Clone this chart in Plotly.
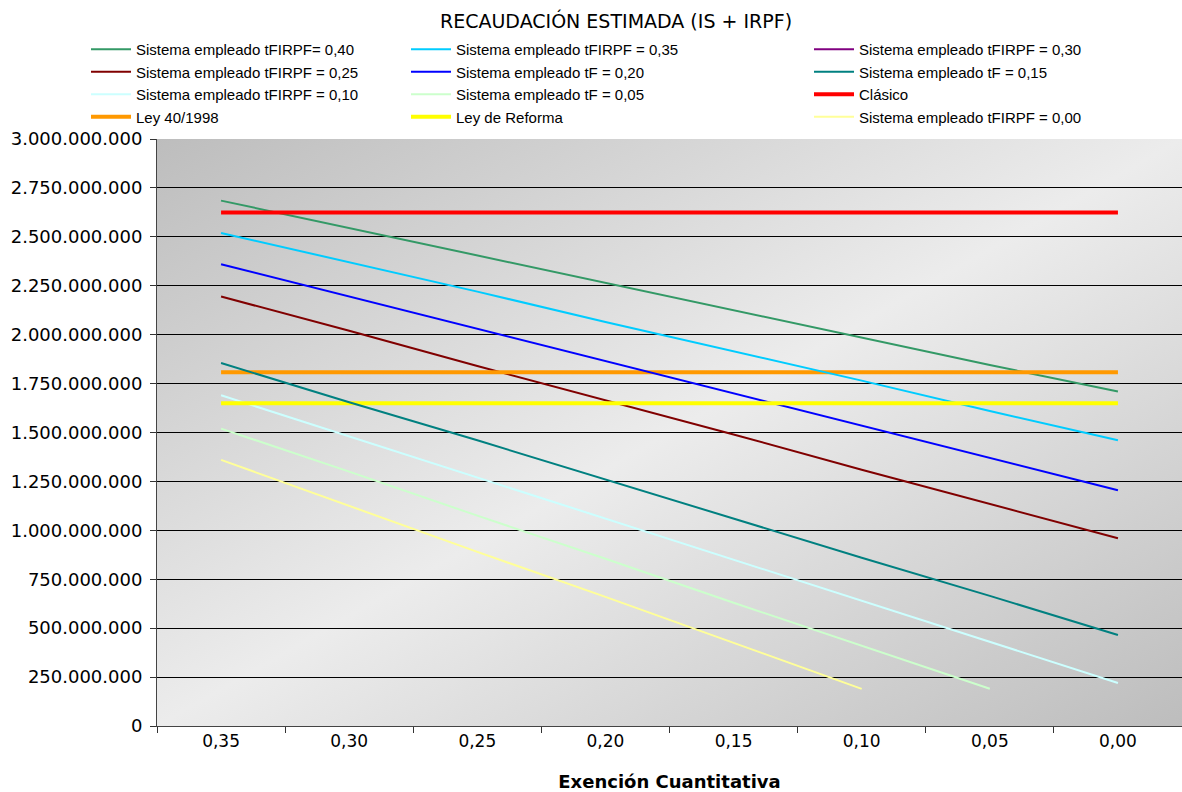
import base64
import plotly.graph_objects as go

# Category axis: exención cuantitativa
categorias = ["0,35", "0,30", "0,25", "0,20", "0,15", "0,10", "0,05", "0,00"]

# Recaudación estimada (IS + IRPF), en euros
s_040 = [2685e6, 2545e6, 2405e6, 2265e6, 2125e6, 1985e6, 1845e6, 1710e6]
s_035 = [2520e6, 2370e6, 2220e6, 2065e6, 1915e6, 1765e6, 1610e6, 1460e6]
s_030 = [None, None, None, None, None, None, None, None]
s_025 = [2195e6, 2020e6, 1840e6, 1665e6, 1490e6, 1310e6, 1135e6, 960e6]
s_020 = [2360e6, 2195e6, 2030e6, 1865e6, 1700e6, 1535e6, 1370e6, 1205e6]
s_015 = [1855e6, 1655e6, 1460e6, 1260e6, 1060e6, 860e6, 665e6, 465e6]
s_010 = [1690e6, 1480e6, 1270e6, 1060e6, 850e6, 640e6, 430e6, 220e6]
s_005 = [1520e6, 1300e6, 1075e6, 855e6, 630e6, 410e6, 190e6, None]
s_000 = [1360e6, 1125e6, 890e6, 660e6, 425e6, 190e6, None, None]
clasico = [2625e6] * 8
ley_40_1998 = [1808e6] * 8
ley_reforma = [1650e6] * 8

# (name, values, colour, width, legend)
series = [
    ("Sistema empleado tFIRPF= 0,40", s_040, "#339966", 2, "legend"),
    ("Sistema empleado tFIRPF = 0,25", s_025, "#800000", 2, "legend"),
    ("Sistema empleado tFIRPF = 0,10", s_010, "#CCFFFF", 2, "legend"),
    ("Ley 40/1998", ley_40_1998, "#FF9900", 4, "legend"),
    ("Sistema empleado tFIRPF = 0,35", s_035, "#00CCFF", 2, "legend2"),
    ("Sistema empleado tF = 0,20", s_020, "#0000FF", 2, "legend2"),
    ("Sistema empleado tF = 0,05", s_005, "#CCFFCC", 2, "legend2"),
    ("Ley de Reforma", ley_reforma, "#FFFF00", 4, "legend2"),
    ("Sistema empleado tFIRPF = 0,30", s_030, "#800080", 2, "legend3"),
    ("Sistema empleado tF = 0,15", s_015, "#008080", 2, "legend3"),
    ("Clásico", clasico, "#FF0000", 4, "legend3"),
    ("Sistema empleado tFIRPF = 0,00", s_000, "#FFFF99", 2, "legend3"),
]

fig = go.Figure()
for name, vals, color, width, leg in series:
    fig.add_trace(go.Scatter(
        x=categorias, y=vals, name=name, mode="lines",
        line=dict(color=color, width=width),
        legend=leg, connectgaps=False,
    ))

# Diagonal grey gradient behind the plotting area
svg = (
    '<svg xmlns="http://www.w3.org/2000/svg" width="100" height="100" '
    'preserveAspectRatio="none" viewBox="0 0 100 100">'
    '<defs><linearGradient id="g" x1="0" y1="0" x2="1" y2="1">'
    '<stop offset="0" stop-color="#bdbdbd"/>'
    '<stop offset="0.5" stop-color="#ececec"/>'
    '<stop offset="1" stop-color="#bdbdbd"/>'
    '</linearGradient></defs>'
    '<rect width="100" height="100" fill="url(#g)"/></svg>'
)
src = "data:image/svg+xml;base64," + base64.b64encode(svg.encode()).decode()

font = "Liberation Sans, Arial, sans-serif"
wide = "DejaVu Sans, Verdana, sans-serif"
L, R, T, B = 157, 0, 139, 66
W = 1182 - L - R


def px_x(p):
    return (p - L) / W


legend_common = dict(
    orientation="v", yanchor="top", xanchor="left", y=1 + (139 - 33) / 587,
    bgcolor="rgba(0,0,0,0)", font=dict(family=font, size=15, color="#000"),
    tracegroupgap=0, itemwidth=40,
)

fig.update_layout(
    width=1182, height=792,
    margin=dict(l=L, r=R, t=T, b=B),
    paper_bgcolor="white",
    plot_bgcolor="rgba(0,0,0,0)",
    separators=",.",
    font=dict(family=font, color="#000"),
    title=dict(
        text="RECAUDACIÓN ESTIMADA (IS + IRPF)",
        x=px_x(616), xref="paper", xanchor="center",
        y=1 - 21 / 792, yref="container", yanchor="middle",
        font=dict(family=wide, size=19, color="#000"),
    ),
    legend=dict(x=px_x(86), **legend_common),
    legend2=dict(x=px_x(406), **legend_common),
    legend3=dict(x=px_x(809), **legend_common),
    images=[dict(
        source=src, xref="paper", yref="paper", x=0, y=1,
        sizex=1, sizey=1, sizing="stretch", layer="below",
        xanchor="left", yanchor="top",
    )],
    xaxis=dict(
        type="category", range=[-0.5, 7.5],
        tickson="boundaries", ticks="outside", ticklen=6, tickcolor="#333",
        showgrid=False, showline=True, linecolor="#444", linewidth=1,
        tickfont=dict(family=wide, size=17, color="#000"),
        title=dict(text="<b>Exención Cuantitativa</b>", standoff=25,
                   font=dict(family=wide, size=18, color="#000")),
        zeroline=False,
    ),
    yaxis=dict(
        range=[0, 3e9], dtick=250e6, tickformat=",d",
        showgrid=True, gridcolor="#000", gridwidth=1,
        ticks="outside", ticklen=6, tickcolor="#333",
        showline=True, linecolor="#444", linewidth=1,
        tickfont=dict(family=wide, size=18, color="#000"),
        ticklabelstandoff=4, zeroline=False,
    ),
)

fig.write_html("out.html")
